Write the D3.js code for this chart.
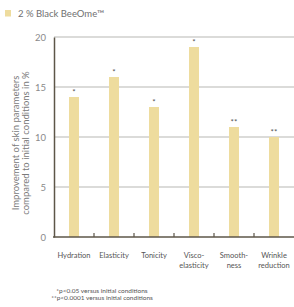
<!DOCTYPE html>
<html>
<head>
<meta charset="utf-8">
<script src="https://d3js.org/d3.v7.min.js"></script>
<style>
  body { margin: 0; background: #fff; }
  svg { display: block; font-family: "Lato", "Open Sans", sans-serif; }
</style>
</head>
<body>
<svg width="294" height="307"></svg>
<script>
  var categories = [['Hydration'], ['Elasticity'], ['Tonicity'], ['Visco-', 'elasticity'], ['Smooth-', 'ness'], ['Wrinkle', 'reduction']];
  var values = [14, 16, 13, 19, 11, 10];
  var stars = ['*', '*', '*', '*', '**', '**'];
  var yTicks = [0, 5, 10, 15, 20];
  var seriesName = '2 % Black BeeOme\u2122';
  var notes = ['*p<0.05 versus initial conditions', '**p<0.0001 versus initial conditions'];

  var barColor = '#eedc9e';

  var svg = d3.select('svg');

  var x = d3.scaleBand()
    .domain(d3.range(categories.length))
    .range([54, 294])
    .paddingInner(0.75)
    .paddingOuter(0.375);
  var y = d3.scaleLinear()
    .domain([0, 20])
    .range([237, 37]);

  // gridlines
  svg.append('g')
    .selectAll('line')
    .data(yTicks.slice(1))
    .enter()
    .append('line')
    .attr('x1', 54).attr('x2', 294)
    .attr('y1', function(d) { return y(d); })
    .attr('y2', function(d) { return y(d); })
    .attr('stroke', '#cfcfcc')
    .attr('stroke-width', 1.3);

  // bars
  svg.append('g')
    .selectAll('rect')
    .data(values)
    .enter()
    .append('rect')
    .attr('x', function(d, i) { return x(i); })
    .attr('width', x.bandwidth())
    .attr('y', function(d) { return y(d); })
    .attr('height', function(d) { return y(0) - y(d); })
    .attr('fill', barColor);

  // significance stars
  svg.append('g')
    .selectAll('text')
    .data(values)
    .enter()
    .append('text')
    .attr('x', function(d, i) { return x(i) + x.bandwidth() / 2; })
    .attr('y', function(d) { return y(d) - 2; })
    .attr('text-anchor', 'middle')
    .attr('font-size', 8)
    .attr('fill', '#555')
    .text(function(d, i) { return stars[i]; });

  // y axis
  var yAxis = svg.append('g')
    .attr('transform', 'translate(54,0)')
    .call(d3.axisLeft(y).tickValues(yTicks).tickSize(0).tickPadding(8));
  yAxis.select('.domain').attr('stroke', '#5d5648').attr('stroke-width', 1.5);
  yAxis.selectAll('text').attr('font-size', 9.5).attr('fill', '#8a8a8a').attr('font-family', 'Lato, sans-serif');

  // x axis line with small ticks between bands
  svg.append('line')
    .attr('x1', 53).attr('x2', 294)
    .attr('y1', y(0)).attr('y2', y(0))
    .attr('stroke', '#5d5648').attr('stroke-width', 1.5);
  svg.append('g')
    .selectAll('line')
    .data(d3.range(1, categories.length))
    .enter()
    .append('line')
    .attr('x1', function(d) { return x(d) - x.step() * 0.375; })
    .attr('x2', function(d) { return x(d) - x.step() * 0.375; })
    .attr('y1', y(0)).attr('y2', y(0) - 4)
    .attr('stroke', '#5d5648').attr('stroke-width', 1.2);

  // category labels
  var labels = svg.append('g')
    .selectAll('text')
    .data(categories)
    .enter()
    .append('text')
    .attr('x', function(d, i) { return x(i) + x.bandwidth() / 2; })
    .attr('y', 258)
    .attr('text-anchor', 'middle')
    .attr('font-size', 7.5)
    .attr('fill', '#555');
  labels.selectAll('tspan')
    .data(function(d) { return d; })
    .enter()
    .append('tspan')
    .attr('x', function() { return d3.select(this.parentNode).attr('x'); })
    .attr('dy', function(d, i) { return i ? 10 : 0; })
    .text(function(d) { return d; });

  // y title
  svg.append('text')
    .attr('transform', 'translate(19,143) rotate(-90)')
    .attr('text-anchor', 'middle')
    .attr('font-size', 9.5)
    .attr('fill', '#7a7a7a')
    .selectAll('tspan')
    .data(['Improvement of skin parameters', 'compared to initial conditions in %'])
    .enter()
    .append('tspan')
    .attr('x', 0)
    .attr('dy', function(d, i) { return i ? 10 : 0; })
    .text(function(d) { return d; });

  // legend
  svg.append('rect')
    .attr('x', 5).attr('y', 10).attr('width', 6).attr('height', 6.5)
    .attr('fill', barColor);
  svg.append('text')
    .attr('x', 18).attr('y', 17)
    .attr('font-size', 9.5)
    .attr('fill', '#707070')
    .text(seriesName);

  // footnotes
  svg.append('g')
    .selectAll('text')
    .data(notes)
    .enter()
    .append('text')
    .attr('x', 102)
    .attr('y', function(d, i) { return 293 + i * 7; })
    .attr('text-anchor', 'middle')
    .attr('font-size', 6.5)
    .attr('fill', '#555')
    .text(function(d) { return d; });
</script>
</body>
</html>
